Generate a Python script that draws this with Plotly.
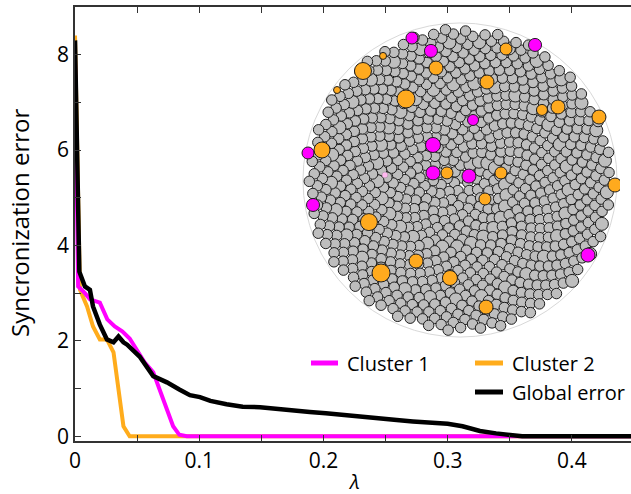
import numpy as np
import plotly.graph_objects as go

# ---------------- data ----------------
lam_cluster1 = [0, 0.0025, 0.008, 0.012, 0.02, 0.026, 0.032, 0.038, 0.044, 0.05, 0.056,
                0.063, 0.068, 0.074, 0.079, 0.084, 0.09, 0.45]
err_cluster1 = [7.9, 3.14, 3.0, 2.87, 2.8, 2.45, 2.3, 2.2, 2.05, 1.8, 1.55,
                1.34, 0.98, 0.56, 0.21, 0.03, 0.0, 0.0]

lam_cluster2 = [0, 0.004, 0.0097, 0.0145, 0.02, 0.0257, 0.031, 0.035, 0.039, 0.044, 0.45]
err_cluster2 = [8.4, 3.07, 2.72, 2.3, 2.03, 2.03, 1.76, 0.98, 0.21, 0.0, 0.0]

lam_global = [0, 0.0035, 0.008, 0.012, 0.0145, 0.020, 0.0257, 0.031, 0.035, 0.039, 0.042,
              0.052, 0.063, 0.074, 0.084, 0.0925, 0.1006, 0.109, 0.122, 0.135, 0.149,
              0.162, 0.175, 0.189, 0.202, 0.216, 0.229, 0.245, 0.259, 0.272, 0.286,
              0.300, 0.312, 0.326, 0.339, 0.350, 0.360, 0.40, 0.45]
err_global = [8.3, 3.45, 3.14, 3.07, 2.72, 2.34, 2.03, 1.97, 2.09, 1.97, 1.92,
              1.67, 1.26, 1.13, 0.98, 0.86, 0.82, 0.74, 0.67, 0.62, 0.61,
              0.57, 0.54, 0.51, 0.48, 0.44, 0.42, 0.38, 0.34, 0.31, 0.29,
              0.26, 0.21, 0.11, 0.06, 0.02, 0.0, 0.0, 0.0]

x_tickvals = [0, 0.05, 0.1, 0.15, 0.2, 0.25, 0.3, 0.35, 0.4, 0.45]
x_ticktext = ["0", "", "0.1", "", "0.2", "", "0.3", "", "0.4", ""]
y_tickvals = [0, 1, 2, 3, 4, 5, 6, 7, 8, 9]
y_ticktext = ["0", "", "2", "", "4", "", "6", "", "8", ""]

series_names = ["Cluster 1", "Cluster 2", "Global error"]

# inset network: highlighted nodes (inset units)
mag_x = [-0.306, -0.185, 0.478, 0.083, -0.172, -0.968, -0.172, 0.057, -0.936, 0.815]
mag_y = [0.904, 0.822, 0.860, 0.382, 0.223, 0.172, 0.045, 0.025, -0.159, -0.478]
mag_d = [12, 13, 13, 11, 15, 12, 14, 14, 13, 14]

org_x = [0.293, -0.490, -0.618, -0.153, 0.172, -0.783, -0.344, 0.522, 0.624, 0.885,
         -0.879, -0.083, 0.261, 0.987, 0.159, -0.580, -0.280, -0.503, -0.064, 0.166]
org_y = [0.834, 0.790, 0.694, 0.713, 0.624, 0.573, 0.516, 0.446, 0.465, 0.401,
         0.191, 0.045, 0.045, -0.032, -0.121, -0.268, -0.516, -0.592, -0.624, -0.809]
org_d = [12, 7, 17, 14, 14, 7, 18, 11, 14, 14,
         16, 12, 12, 14, 12, 17, 14, 18, 15, 14]

pink_x = [-0.478]
pink_y = [0.032]

# ---------------- styles ----------------
C_MAG = "#FF00FF"
C_ORG = "#FFAC1C"
C_BLK = "#000000"
FONT = "Open Sans"
AX = "#333333"

fig = go.Figure()

fig.add_trace(go.Scatter(x=lam_cluster2, y=err_cluster2, mode="lines", name=series_names[1],
                         line=dict(color=C_ORG, width=4), showlegend=False))
fig.add_trace(go.Scatter(x=lam_cluster1, y=err_cluster1, mode="lines", name=series_names[0],
                         line=dict(color=C_MAG, width=4), showlegend=False))
fig.add_trace(go.Scatter(x=lam_global, y=err_global, mode="lines", name=series_names[2],
                         line=dict(color=C_BLK, width=4.5), showlegend=False))

# ---- inset: background grey nodes as a packed disc (decorative texture) ----
n_grey = 880
idx = np.arange(n_grey) + 0.5
rad = 0.965 * np.sqrt(idx / n_grey)
ang = idx * np.pi * (3 - np.sqrt(5))
gx = rad * np.cos(ang)
gy = rad * np.sin(ang)
gsize = np.where(np.arange(n_grey) % 13 == 0, 13, 10.5)

fig.add_trace(go.Scatter(x=gx, y=gy, mode="markers", xaxis="x2", yaxis="y2",
                         marker=dict(size=gsize, color="#BEBEBE", opacity=1,
                                     line=dict(color="#1e1e1e", width=1)),
                         showlegend=False, hoverinfo="skip"))
fig.add_trace(go.Scatter(x=org_x, y=org_y, mode="markers", xaxis="x2", yaxis="y2",
                         marker=dict(size=org_d, color="#FFAA1E", opacity=1,
                                     line=dict(color="#1e1e1e", width=1)),
                         showlegend=False, hoverinfo="skip"))
fig.add_trace(go.Scatter(x=mag_x, y=mag_y, mode="markers", xaxis="x2", yaxis="y2",
                         marker=dict(size=mag_d, color=C_MAG, opacity=1,
                                     line=dict(color="#1e1e1e", width=1)),
                         showlegend=False, hoverinfo="skip"))
fig.add_trace(go.Scatter(x=pink_x, y=pink_y, mode="markers", xaxis="x2", yaxis="y2",
                         marker=dict(size=6, color="#FFB8F0", opacity=1,
                                     line=dict(color="#888888", width=0.5)),
                         showlegend=False, hoverinfo="skip"))

shapes = [
    dict(type="circle", xref="x2", yref="y2", x0=-1.0, x1=1.0, y0=-1.0, y1=1.0,
         line=dict(color="#D8D8D8", width=1), layer="below"),
]

# ---- manual legend ----
def px_x(px):
    return (px - 75) / 556.0

def px_y(py):
    return 1 - (py - 7) / 434.0

legend_rows = [
    (series_names[0], C_MAG, 311, 338, 363),
    (series_names[1], C_ORG, 475, 503, 363),
    (series_names[2], C_BLK, 475, 503, 392),
]
annotations = []
for name, col, x0, x1, yy in legend_rows:
    shapes.append(dict(type="line", xref="paper", yref="paper",
                       x0=px_x(x0), x1=px_x(x1), y0=px_y(yy), y1=px_y(yy),
                       line=dict(color=col, width=5)))
    annotations.append(dict(text=name, xref="paper", yref="paper",
                            x=px_x(x1 + 7), y=px_y(yy), xanchor="left", yanchor="middle",
                            showarrow=False, font=dict(family=FONT, size=20, color="black")))

annotations.append(dict(text="Syncronization error", xref="paper", yref="paper",
                        x=px_x(19), y=px_y(223), xanchor="center", yanchor="middle",
                        textangle=-90, showarrow=False,
                        font=dict(family=FONT, size=24, color="black")))
annotations.append(dict(text="<i>λ</i>", xref="paper", yref="paper",
                        x=px_x(354), y=px_y(481), xanchor="center", yanchor="middle",
                        showarrow=False, font=dict(family=FONT, size=20, color="black")))

fig.update_layout(
    width=631, height=494,
    margin=dict(l=75, r=0, t=7, b=53),
    paper_bgcolor="white", plot_bgcolor="white",
    font=dict(family=FONT, color="black"),
    showlegend=False,
    shapes=shapes, annotations=annotations,
    xaxis=dict(range=[0, 0.4476], showgrid=False, zeroline=False,
               showline=True, linecolor=AX, linewidth=1.5, mirror="ticks",
               ticks="inside", ticklen=6, tickcolor=AX, tickwidth=1.2,
               tickvals=x_tickvals, ticktext=x_ticktext,
               tickfont=dict(family=FONT, size=21, color="black")),
    yaxis=dict(range=[-0.1, 9.0], showgrid=False, zeroline=False,
               showline=True, linecolor=AX, linewidth=1.5,
               ticks="inside", ticklen=6, tickcolor=AX, tickwidth=1.2,
               tickvals=y_tickvals, ticktext=y_ticktext,
               tickfont=dict(family=FONT, size=21, color="black")),
    xaxis2=dict(domain=[px_x(300), px_x(620)], range=[-1.019, 1.019], visible=False,
                anchor="y2", fixedrange=True),
    yaxis2=dict(domain=[px_y(338), px_y(22)], range=[-1.006, 1.006], visible=False,
                anchor="x2", fixedrange=True),
)

fig.write_html("out.html", config={"displayModeBar": False},
               post_script="document.body.style.margin='0';document.body.style.padding='0';"
                           "document.body.style.overflow='hidden';")
